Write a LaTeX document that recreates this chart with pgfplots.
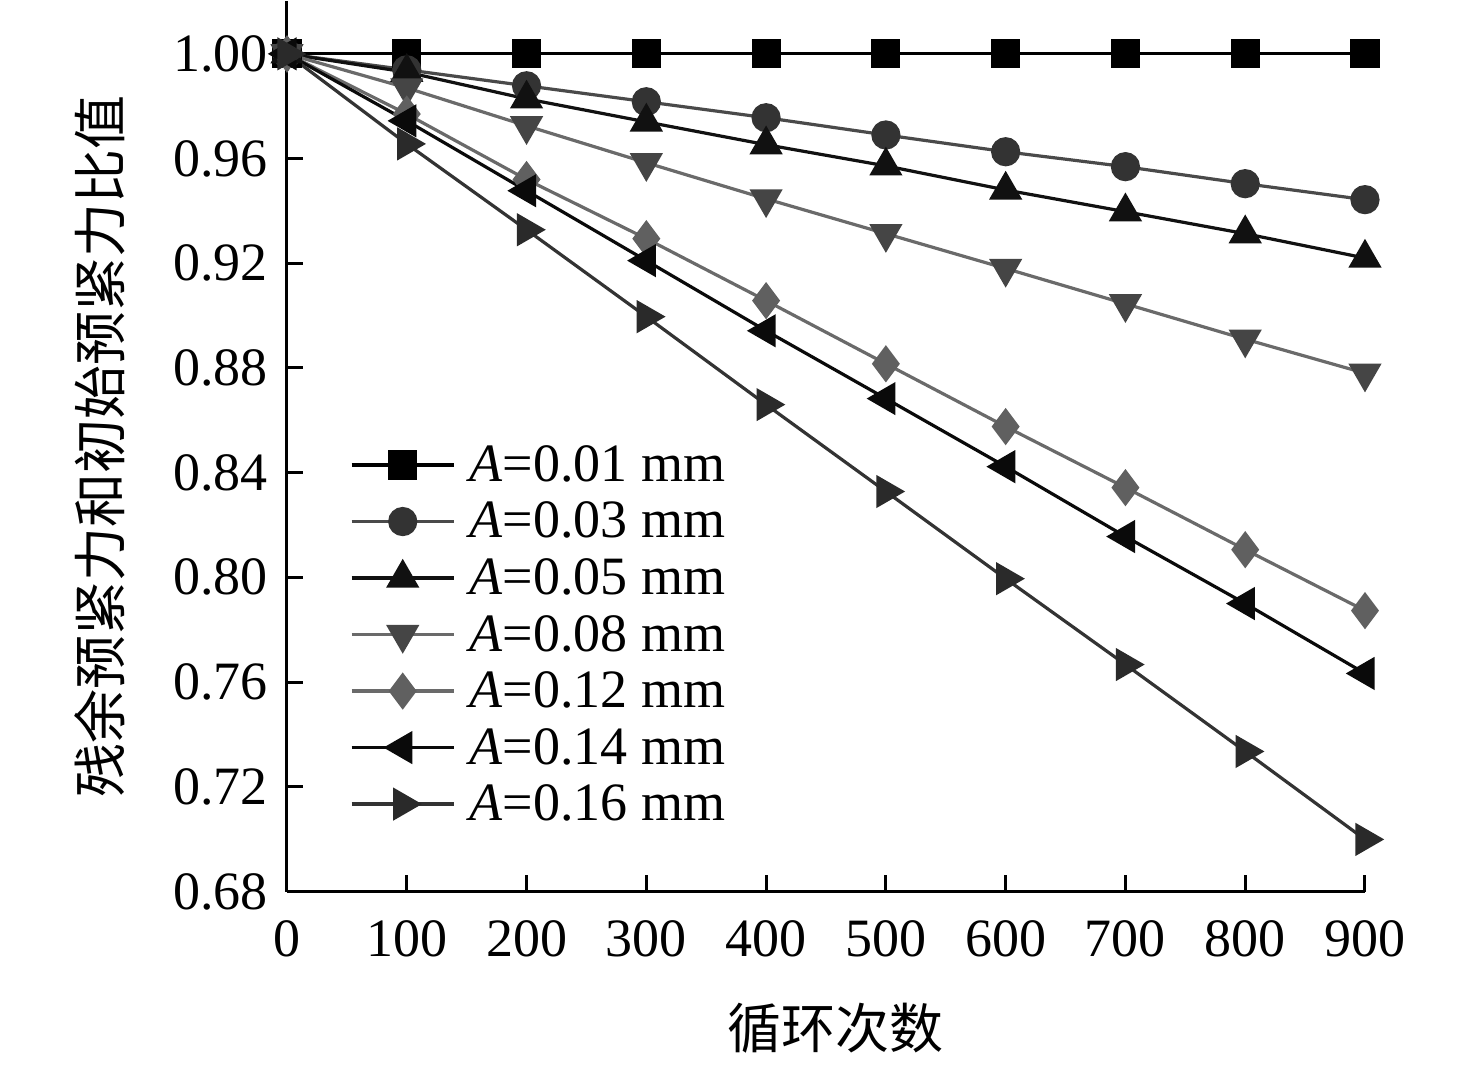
\documentclass[border=0pt]{standalone}
\usepackage{pgfplots}
\pgfplotsset{compat=1.18}
\usepackage{fontspec}
\setmainfont{Liberation Serif}
\newfontfamily\cjk{Noto Sans CJK SC}
\definecolor{c1}{HTML}{000000}
\definecolor{c2l}{HTML}{4A4A4A}
\definecolor{c2m}{HTML}{333333}
\definecolor{c3}{HTML}{111111}
\definecolor{c4l}{HTML}{6A6A6A}
\definecolor{c4m}{HTML}{454545}
\definecolor{c5l}{HTML}{6A6A6A}
\definecolor{c5m}{HTML}{606060}
\definecolor{c6}{HTML}{0A0A0A}
\definecolor{c7l}{HTML}{333333}
\definecolor{c7m}{HTML}{2A2A2A}
\begin{document}
\begin{tikzpicture}
\begin{axis}[
  scale only axis,
  width=539pt, height=445pt,
  xmin=0, xmax=900, ymin=0.68, ymax=1.02,
  axis x line*=bottom, axis y line*=left,
  axis line style={line width=1.5pt,-},
  xtick={0,100,...,900},
  ytick={0.68,0.72,0.76,0.80,0.84,0.88,0.92,0.96,1.00},
  tick align=inside,
  major tick length=8pt,
  tick style={line width=1.5pt,black},
  yticklabel style={/pgf/number format/fixed,/pgf/number format/fixed zerofill,/pgf/number format/precision=2,xshift=-6pt},
  /pgf/number format/assume math mode=true,
  ticklabel style={font=\fontsize{27}{30}\selectfont},
  xticklabel style={yshift=-11pt},
  xlabel={\cjk 循环次数},
  ylabel={\cjk 残余预紧力和初始预紧力比值},
  label style={font=\fontsize{27}{30}\selectfont},
  xlabel style={at={(axis description cs:0.509,-0.154)},anchor=center},
  ylabel style={at={(axis description cs:-0.1735,0.5)},anchor=center,rotate=0},
  clip=false,
  legend cell align=left,
  legend style={at={(axis description cs:0.058,0.506)},anchor=north west,draw=none,fill=none,
    font=\fontsize{27}{30}\selectfont, row sep=4.8pt, inner sep=0pt},
  legend image code/.code={\draw[mark repeat=2,mark phase=2] plot coordinates {(0cm,0cm)(0.9cm,0cm)(1.8cm,0cm)};},
  every axis plot/.append style={line width=1.6pt},
]
\coordinate (O) at (axis cs:0,0.68);
\addplot[c1, mark=square*, mark size=6.5pt, mark options={fill=c1,draw=c1}] coordinates {
(0,1.0)(100,1.0)(200,1.0)(300,1.0)(400,1.0)(500,1.0)(600,1.0)(700,1.0)(800,1.0)(900,1.0)};
\addlegendentry{\hspace{5pt}\textit{A}=0.01 mm}
\addplot[c2l, mark=*, mark size=6.5pt, mark options={fill=c2m,draw=c2m}] coordinates {
(0,1.0)(100,0.9939)(200,0.9878)(300,0.9817)(400,0.9756)(500,0.969)(600,0.9626)(700,0.9569)(800,0.9504)(900,0.9443)};
\addlegendentry{\hspace{5pt}\textit{A}=0.03 mm}
\addplot[c3, mark=triangle*, mark size=8pt, mark options={fill=c3,draw=c3}] coordinates {
(0,1.0)(100,0.993)(200,0.9828)(300,0.974)(400,0.9653)(500,0.9572)(600,0.948)(700,0.9397)(800,0.9313)(900,0.922)};
\addlegendentry{\hspace{5pt}\textit{A}=0.05 mm}
\addplot[c4l, mark=triangle*, mark size=8pt, mark options={fill=c4m,draw=c4m,rotate=180}] coordinates {
(0,1.0)(100,0.987)(200,0.9725)(300,0.9584)(400,0.9446)(500,0.9313)(600,0.918)(700,0.9045)(800,0.891)(900,0.878)};
\addlegendentry{\hspace{5pt}\textit{A}=0.08 mm}
\addplot[c5l, mark=diamond*, mark size=8pt, mark options={fill=c5m,draw=c5m}] coordinates {
(0,1.0)(100,0.977)(200,0.952)(300,0.9294)(400,0.9057)(500,0.8816)(600,0.8576)(700,0.8343)(800,0.8106)(900,0.7873)};
\addlegendentry{\hspace{5pt}\textit{A}=0.12 mm}
\addplot[c6, mark=triangle*, mark size=8pt, mark options={fill=c6,draw=c6,rotate=90}] coordinates {
(0,1.0)(100,0.9744)(200,0.9477)(300,0.921)(400,0.8942)(500,0.8683)(600,0.8423)(700,0.8156)(800,0.79)(900,0.7633)};
\addlegendentry{\hspace{5pt}\textit{A}=0.14 mm}
\addplot[c7l, mark=triangle*, mark size=8pt, mark options={fill=c7m,draw=c7m,rotate=-90}] coordinates {
(0,1.0)(100,0.9656)(200,0.9328)(300,0.8996)(400,0.866)(500,0.8328)(600,0.7995)(700,0.7667)(800,0.7335)(900,0.6999)};
\addlegendentry{\hspace{5pt}\textit{A}=0.16 mm}
\end{axis}
\path (O) ++(-143.5pt,-86.5pt) rectangle ++(738pt,531.5pt);
\end{tikzpicture}
\end{document}
